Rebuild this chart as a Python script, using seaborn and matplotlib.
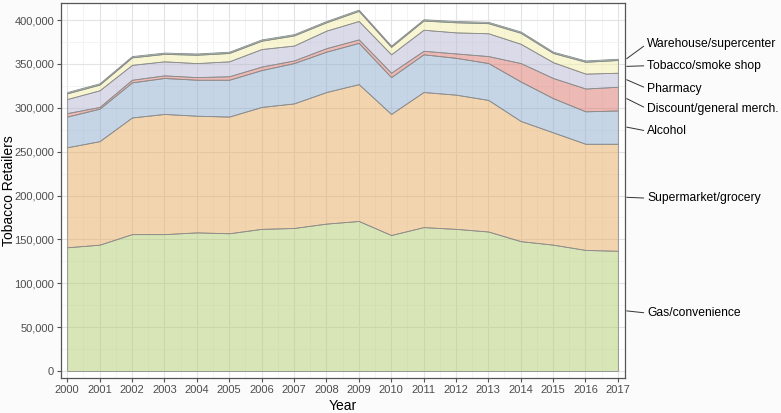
import numpy as np
import pandas as pd
import matplotlib
matplotlib.use("Agg")
import matplotlib.pyplot as plt
import matplotlib.ticker as mticker
import seaborn as sns

years = list(range(2000, 2018))
categories = ["Gas/convenience", "Supermarket/grocery", "Alcohol",
              "Discount/general merch.", "Pharmacy", "Tobacco/smoke shop",
              "Warehouse/supercenter"]

# Number of tobacco retailers per category
gas = [141000, 144000, 156000, 156000, 158000, 157000, 162000, 163000, 168000,
       171000, 155000, 164000, 162000, 159000, 148000, 144000, 138000, 137000]
supermarket = [114000, 118000, 133000, 137000, 133000, 133000, 139000, 142000, 150000,
               156000, 138000, 154000, 153000, 150000, 137000, 128000, 121000, 122000]
alcohol = [35000, 37000, 40000, 41000, 41000, 42000, 42000, 46000, 46000,
           47000, 42000, 43000, 42000, 42000, 45000, 39000, 37000, 38000]
discount = [4000, 2000, 3000, 3000, 3000, 4000, 4000, 3000, 4000,
            4000, 5000, 4000, 5000, 8000, 21000, 23000, 26000, 27000]
pharmacy = [16000, 19000, 17000, 16000, 16000, 17000, 20000, 17000, 20000,
            21000, 21000, 24000, 24000, 26000, 22000, 18000, 17000, 16000]
tobacco = [6500, 6500, 8500, 8500, 9500, 9500, 9500, 11500, 9500,
           11500, 8500, 10500, 11500, 11500, 12500, 10500, 13500, 14500]
warehouse = [1500, 1500, 1500, 1500, 1500, 1500, 1500, 1500, 1500,
             1500, 1500, 1500, 1500, 1500, 1500, 1500, 1500, 1500]

series = [gas, supermarket, alcohol, discount, pharmacy, tobacco, warehouse]
df = pd.DataFrame({c: s for c, s in zip(categories, series)}, index=years)

base_colors = ["#b3cd71", "#e7ab61", "#8dadcd", "#db756d", "#b9b7d5", "#f3eda7", "#6bb18d"]
# label anchor heights (layout only)
label_y = [66000, 197000, 273500, 299000, 322000, 348000, 373000]

sns.set_theme(style="whitegrid")
plt.rcParams['font.family'] = ['Liberation Sans', 'DejaVu Sans']

fig = plt.figure(figsize=(7.81, 4.13), dpi=100, facecolor="#fbfbfb")
ax = fig.add_axes([61/781, 1-378/413, (625-61)/781, (378-3)/413])
ax.set_facecolor("white")

fills = [matplotlib.colors.to_rgba(c, 0.5) for c in base_colors]
polys = ax.stackplot(df.index, *[df[c].values for c in categories],
                     colors=fills, edgecolor="#8c8c8c", linewidth=0.6, zorder=2)
for p, fc in zip(polys, fills):
    p.set_facecolor(fc)
    p.set_edgecolor((0.55, 0.55, 0.55, 1.0))

ax.set_xlim(1999.81, 2017.22)
ax.set_ylim(-8000, 419500)
ax.set_xticks(years)
ax.xaxis.set_minor_locator(mticker.MultipleLocator(0.5))
ax.yaxis.set_major_locator(mticker.MultipleLocator(50000))
ax.yaxis.set_minor_locator(mticker.MultipleLocator(25000))
ax.yaxis.set_major_formatter(mticker.FuncFormatter(lambda v, p: f"{int(v):,}"))
ax.set_axisbelow(True)
ax.grid(which="major", color="#e3e3e3", linewidth=0.8, zorder=0)
ax.grid(which="minor", color="#f0f0f0", linewidth=0.5, zorder=0)
ax.tick_params(axis="both", which="major", labelsize=8, labelcolor="#4d4d4d",
               length=3, color="#555555", width=0.8, pad=2, direction="out",
               bottom=True, left=True)
ax.tick_params(axis="both", which="minor", length=0)
for s in ax.spines.values():
    s.set_visible(True)
    s.set_color("#555555")
    s.set_linewidth(0.9)

ax.set_xlabel("Year", fontsize=10, color="black", labelpad=3)
ax.set_ylabel("Tobacco Retailers", fontsize=10, color="black", labelpad=-1)

cum = df[categories].cumsum(axis=1)
last = df.index[-1]
trans = matplotlib.transforms.blended_transform_factory(ax.transAxes, ax.transData)
for i, c in enumerate(categories):
    top = cum[c].loc[last]
    bottom = top - df[c].loc[last]
    mid = (top + bottom) / 2
    if c == "Warehouse/supercenter":
        mid = top
    ax.annotate(c, xy=(1.003, mid), xycoords=trans,
                xytext=(1.039, label_y[i]), textcoords=trans,
                fontsize=8.7, color="black", va="center", ha="left",
                annotation_clip=False,
                arrowprops=dict(arrowstyle="-", color="#333333", lw=0.7,
                                shrinkA=0, shrinkB=0,
                                relpos=(0, 0.5)))

fig.savefig("out.png", dpi=100, facecolor=fig.get_facecolor())
